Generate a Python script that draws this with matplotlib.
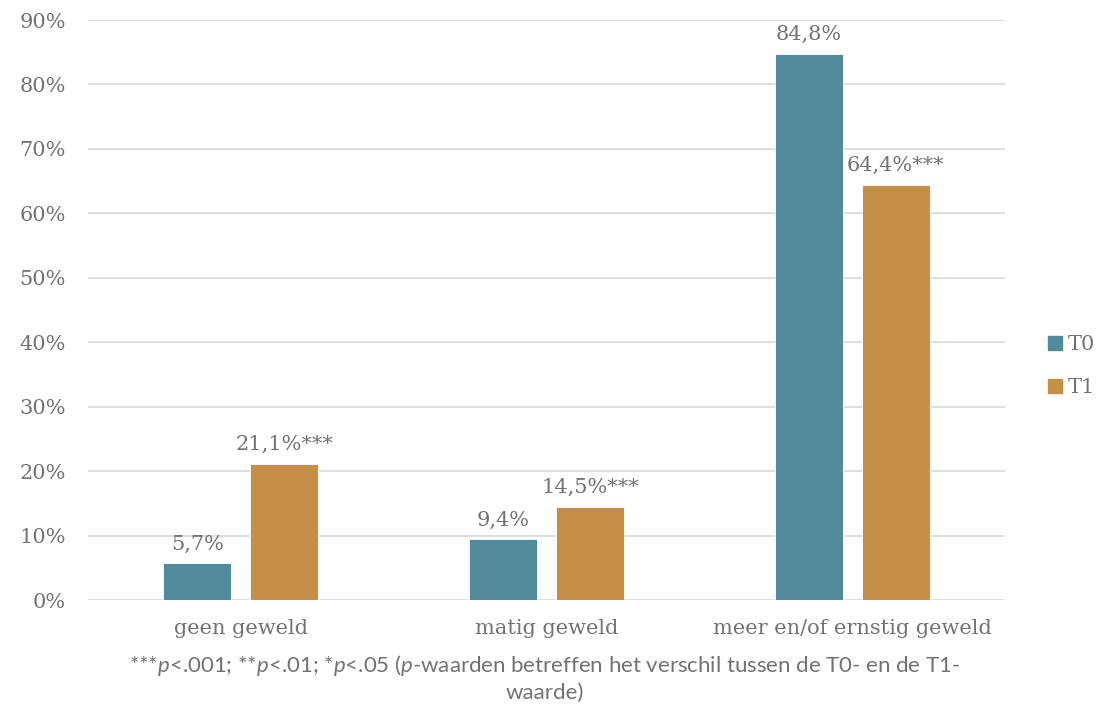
import matplotlib
matplotlib.use("Agg")
import matplotlib.pyplot as plt
import numpy as np
from matplotlib.patches import Patch

categories = ["geen geweld", "matig geweld", "meer en/of ernstig geweld"]
t0_values = [5.7, 9.4, 84.8]
t1_values = [21.1, 14.5, 64.4]
t0_labels = ["5,7%", "9,4%", "84,8%"]
t1_labels = ["21,1%***", "14,5%***", "64,4%***"]
series_names = ["T0", "T1"]
yticks = [0, 10, 20, 30, 40, 50, 60, 70, 80, 90]

c_t0 = "#518A9A"
c_t1 = "#C49047"
txt = "#767171"
serif = "DejaVu Serif"
fs = 15

plt.rcParams["mathtext.fontset"] = "custom"
plt.rcParams["mathtext.it"] = "Lato:italic"
plt.rcParams["mathtext.rm"] = "Lato"

fig = plt.figure(figsize=(10.97, 7.08), dpi=100)
ax = fig.add_axes([88/1097, 1 - 600/708, 917/1097, 580/708])

x = np.arange(len(categories))
w = 0.222
off = 0.142
b0 = ax.bar(x - off, t0_values, w, color=c_t0, edgecolor="white", linewidth=0.6, zorder=3)
b1 = ax.bar(x + off, t1_values, w, color=c_t1, edgecolor="white", linewidth=0.6, zorder=3)

for rect, lab in zip(b0, t0_labels):
    ax.annotate(lab, (rect.get_x() + rect.get_width()/2, rect.get_height()),
                xytext=(0, 7), textcoords="offset points", ha="center", va="bottom",
                fontsize=fs, color=txt, family=serif)
for rect, lab in zip(b1, t1_labels):
    ax.annotate(lab, (rect.get_x() + rect.get_width()/2, rect.get_height()),
                xytext=(0, 7), textcoords="offset points", ha="center", va="bottom",
                fontsize=fs, color=txt, family=serif)

ax.set_xlim(-0.5, 2.5)
ax.set_ylim(0, 90)
ax.set_yticks(yticks)
ax.set_yticklabels([f"{v}%" for v in yticks], fontsize=fs, color=txt, family=serif)
ax.set_xticks(x)
ax.set_xticklabels(categories, fontsize=fs, color=txt, family=serif)
ax.tick_params(axis="x", length=0, pad=14)
ax.tick_params(axis="y", length=0, pad=16)
ax.grid(axis="y", color="#D9D9D9", linewidth=1.2, zorder=0)
for s in ax.spines.values():
    s.set_visible(False)

handles = [Patch(facecolor=c_t0, edgecolor=c_t0), Patch(facecolor=c_t1, edgecolor=c_t1)]
leg = fig.legend(handles, series_names, loc="center left", bbox_to_anchor=(1040/1097, 1 - 366/708),
                 frameon=False, prop={"family": serif, "size": fs}, handlelength=0.65,
                 handleheight=0.65, handletextpad=0.3, labelspacing=1.15, borderaxespad=0)
for t in leg.get_texts():
    t.set_color(txt)

fn = "Lato"
fig.text(545/1097, 1 - 665/708,
         r"***$\mathit{p}$<.001; **$\mathit{p}$<.01; *$\mathit{p}$<.05 ($\mathit{p}$-waarden betreffen het verschil tussen de T0- en de T1-",
         ha="center", va="center", fontsize=16, color=txt, family=fn)
fig.text(545/1097, 1 - 693/708, "waarde)", ha="center", va="center", fontsize=16, color=txt, family=fn)

fig.savefig("out.png", dpi=100)
